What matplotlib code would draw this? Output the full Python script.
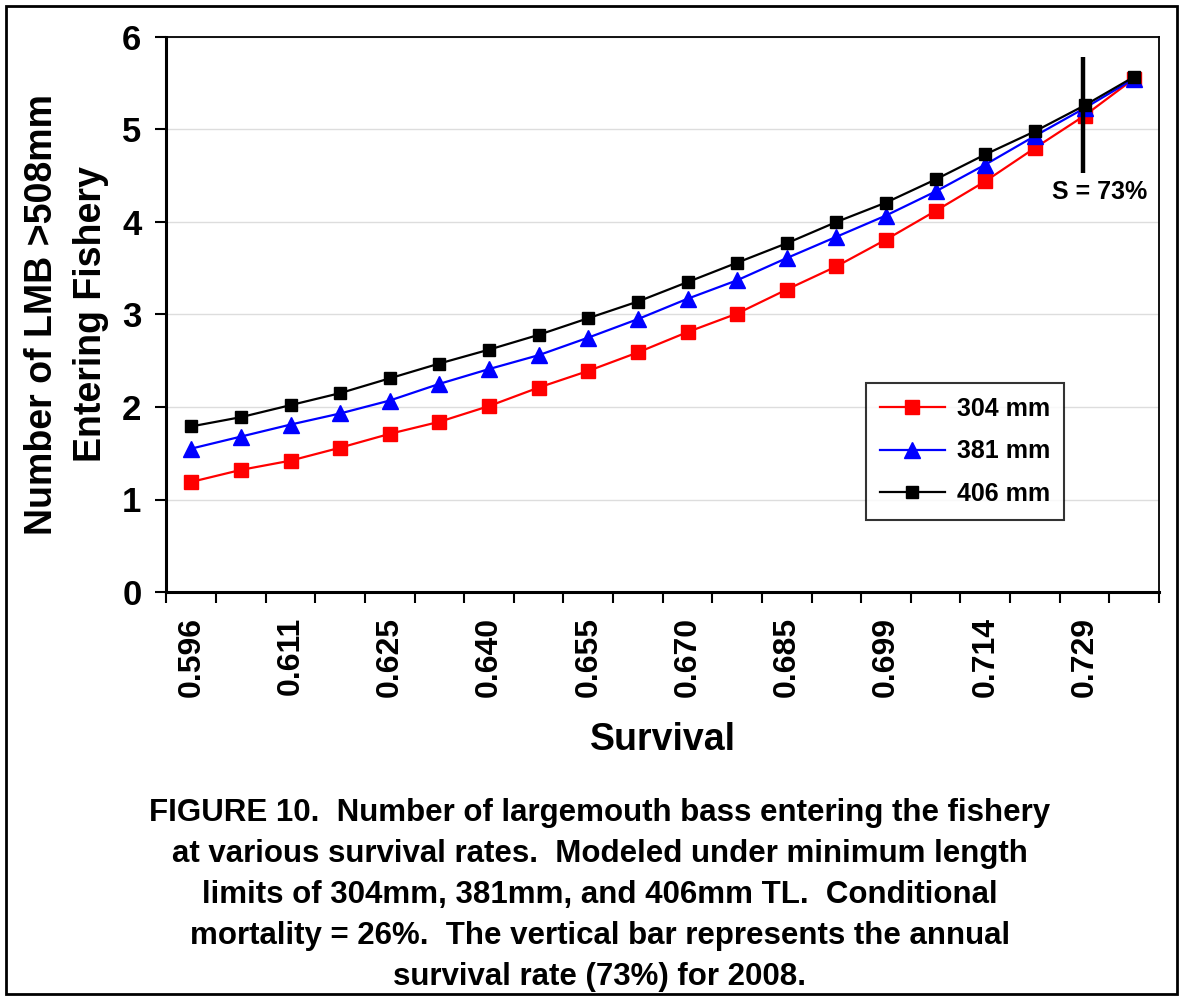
import numpy as np
import matplotlib
matplotlib.use("Agg")
import matplotlib.pyplot as plt
from matplotlib.patches import Rectangle

plt.rcParams['font.family'] = ['Liberation Sans', 'DejaVu Sans']
plt.rcParams['font.weight'] = 'bold'

# Survival rates (category axis), labels shown on every other one
survival = ["0.596", "0.603", "0.611", "0.618", "0.625", "0.633", "0.640",
            "0.648", "0.655", "0.662", "0.670", "0.677", "0.685", "0.692",
            "0.699", "0.707", "0.714", "0.721", "0.729", "0.736"]

# Number of LMB >508mm entering fishery
mm304 = [1.19, 1.32, 1.42, 1.56, 1.71, 1.84, 2.01, 2.21, 2.39, 2.59,
         2.81, 3.01, 3.27, 3.52, 3.81, 4.12, 4.44, 4.80, 5.15, 5.55]
mm381 = [1.55, 1.68, 1.81, 1.93, 2.07, 2.25, 2.41, 2.56, 2.75, 2.95,
         3.17, 3.37, 3.61, 3.84, 4.07, 4.33, 4.62, 4.93, 5.23, 5.55]
mm406 = [1.79, 1.89, 2.02, 2.15, 2.31, 2.47, 2.62, 2.78, 2.96, 3.14,
         3.35, 3.56, 3.77, 4.00, 4.21, 4.46, 4.73, 4.98, 5.26, 5.57]

# 2008 survival marker
bar_x = 17.96
bar_y = (4.53, 5.78)

fig = plt.figure(figsize=(11.83, 9.99), dpi=100)
ax = fig.add_axes([0.1407, 0.4074, 0.8390, 0.5556])

x = np.arange(len(survival))
ax.plot(x, mm304, color='#ff0000', lw=1.6, marker='s', ms=9.5, label="304 mm")
ax.plot(x, mm381, color='#0000ff', lw=1.6, marker='^', ms=11, label="381 mm")
ax.plot(x, mm406, color='black', lw=1.6, marker='s', ms=8.5, label="406 mm")

ax.vlines(bar_x, bar_y[0], bar_y[1], color='black', lw=3.2, zorder=5)
ax.text(18.3, 4.32, "S = 73%", ha='center', va='center', fontsize=18, fontweight='bold')

ax.set_xlim(-0.5, len(survival) - 0.5)
ax.set_ylim(0, 6)
ax.set_yticks(range(7))
ax.yaxis.grid(True, color='#dddddd', lw=1)
ax.set_axisbelow(True)

ax.set_xticks(x[::2])
ax.set_xticklabels(survival[::2], rotation=90, fontsize=23, fontweight='bold')
ax.set_xticks(np.arange(-0.5, len(survival)), minor=True)
ax.tick_params(axis='x', which='major', length=0, pad=18)
ax.tick_params(axis='x', which='minor', length=8, width=1.5, direction='out')
ax.tick_params(axis='y', length=8, width=1.5, labelsize=25, pad=10)
for lab in ax.get_yticklabels():
    lab.set_fontweight('bold')

for side in ['left', 'bottom']:
    ax.spines[side].set_linewidth(2.2)
for side in ['top', 'right']:
    ax.spines[side].set_linewidth(1.3)

ax.set_xlabel("Survival", fontsize=27, fontweight='bold', labelpad=18)
ax.set_ylabel("Number of LMB >508mm\nEntering Fishery", fontsize=27,
              fontweight='bold', linespacing=1.45)
ax.yaxis.set_label_coords(-0.058, 0.5)

leg = ax.legend(loc='lower left', bbox_to_anchor=(0.705, 0.13), borderaxespad=0,
                frameon=True, fancybox=False, edgecolor='black', handlelength=2.6,
                borderpad=0.55, labelspacing=0.75, handletextpad=0.5,
                prop={'weight': 'bold', 'size': 18})
leg.get_frame().set_linewidth(1.5)

caption = ("FIGURE 10.  Number of largemouth bass entering the fishery\n"
           "at various survival rates.  Modeled under minimum length\n"
           "limits of 304mm, 381mm, and 406mm TL.  Conditional\n"
           "mortality = 26%.  The vertical bar represents the annual\n"
           "survival rate (73%) for 2008.")
fig.text(0.507, 0.104, caption, ha='center', va='center', fontsize=22.5,
         fontweight='bold', linespacing=1.47)

fig.patches.append(Rectangle((0.005, 0.005), 0.99, 0.989, transform=fig.transFigure,
                             fill=False, edgecolor='black', lw=2))

fig.savefig("out.png", dpi=100)
